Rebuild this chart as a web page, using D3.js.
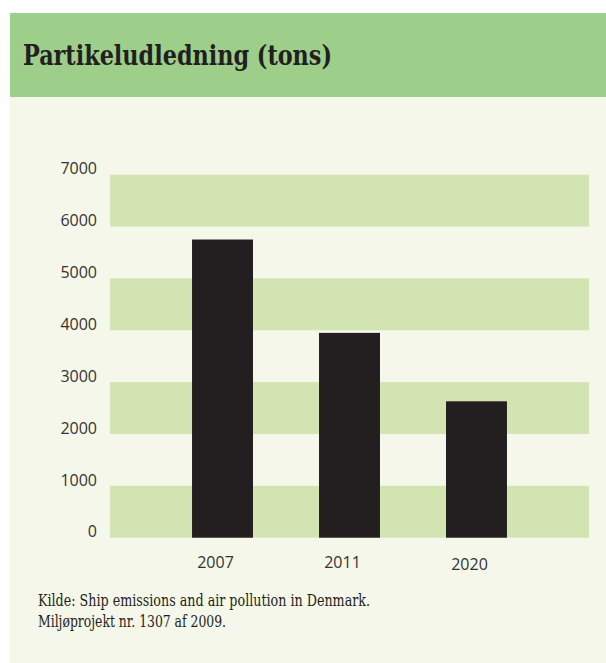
<!DOCTYPE html>
<html>
<head>
<meta charset="utf-8">
<script src="https://cdn.jsdelivr.net/npm/d3@7"></script>
<style>
  html, body { margin: 0; padding: 0; background: #ffffff; }
  svg { display: block; }
</style>
</head>
<body>
<svg id="chart" width="606" height="663"></svg>
<script>
// Partikeludledning fra skibe, tons per år

const years = ["2007", "2011", "2020"];
const emissions = [5750, 3950, 2630];
const yTicks = [0, 1000, 2000, 3000, 4000, 5000, 6000, 7000];
const sourceLines = [
  "Kilde: Ship emissions and air pollution in Denmark.",
  "Miljøprojekt nr. 1307 af 2009."
];

const svg = d3.select("#chart");

// panel background and header
svg.append("rect")
  .attr("x", 10).attr("y", 13)
  .attr("width", 596).attr("height", 650)
  .attr("fill", "#f5f7ea");

svg.append("rect")
  .attr("x", 10).attr("y", 13)
  .attr("width", 596).attr("height", 84)
  .attr("fill", "#9dcf8a");

svg.append("text")
  .attr("x", 23).attr("y", 65)
  .attr("font-family", "DejaVu Serif Condensed, DejaVu Serif, serif")
  .attr("font-weight", "bold")
  .attr("font-size", 28)
  .attr("textLength", 309)
  .attr("lengthAdjust", "spacingAndGlyphs")
  .attr("fill", "#231f20")
  .text("Partikeludledning (tons)");

const y = d3.scaleLinear()
  .domain([0, 7000])
  .range([537.7, 174.7]);

const x = d3.scaleBand()
  .domain(years)
  .range([110, 589])
  .paddingInner(0.52)
  .paddingOuter(0.646);

// alternating bands: 0-1000, 2000-3000, 4000-5000, 6000-7000
const bands = yTicks.filter((t, i) => i % 2 === 0);

svg.append("g").selectAll("rect")
  .data(bands)
  .enter()
  .append("rect")
  .attr("x", 110)
  .attr("width", 479)
  .attr("y", d => y(d + 1000))
  .attr("height", d => y(d) - y(d + 1000))
  .attr("fill", "#d1e4b1");

// bars
svg.append("g").selectAll("rect")
  .data(emissions)
  .enter()
  .append("rect")
  .attr("x", (d, i) => x(years[i]))
  .attr("width", x.bandwidth())
  .attr("y", d => y(d))
  .attr("height", d => y(0) - y(d))
  .attr("fill", "#231f20");

// y axis, labels only
const yAxis = d3.axisLeft(y)
  .tickValues(yTicks)
  .tickSize(0)
  .tickPadding(0)
  .tickFormat(d3.format("d"));

const gy = svg.append("g")
  .attr("transform", "translate(97,0)")
  .call(yAxis);

gy.select(".domain").remove();
gy.selectAll("text")
  .attr("dy", "-0.05em")
  .attr("font-family", "Open Sans, sans-serif")
  .attr("font-size", 16)
  .attr("fill", "#333333");

// x axis, labels only
const xAxis = d3.axisBottom(x)
  .tickSize(0)
  .tickPadding(0);

const gx = svg.append("g")
  .attr("transform", "translate(-7,568)")
  .call(xAxis);

gx.select(".domain").remove();
gx.selectAll("text")
  .attr("dy", 0)
  .attr("y", (d, i) => i === 2 ? 2 : 0)
  .attr("font-family", "Open Sans, sans-serif")
  .attr("font-size", 16)
  .attr("fill", "#333333");

// source note
svg.append("g").selectAll("text")
  .data(sourceLines)
  .enter()
  .append("text")
  .attr("x", 38)
  .attr("y", (d, i) => 606 + i * 21)
  .attr("font-family", "DejaVu Serif Condensed, DejaVu Serif, serif")
  .attr("font-size", 16)
  .attr("textLength", (d, i) => i === 0 ? 332 : 188)
  .attr("lengthAdjust", "spacingAndGlyphs")
  .attr("fill", "#231f20")
  .text(d => d);
</script>
</body>
</html>
